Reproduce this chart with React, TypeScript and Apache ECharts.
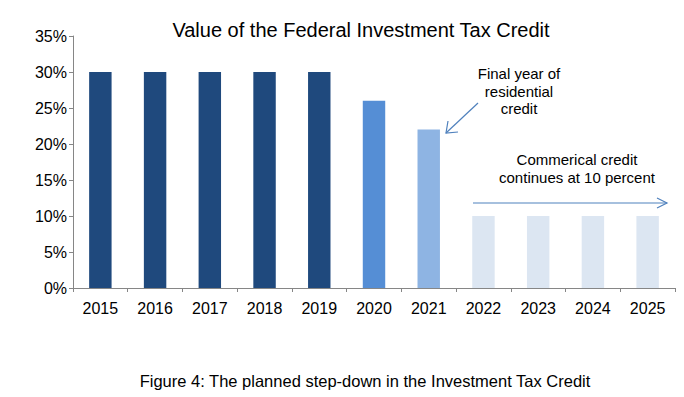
import React, { useEffect, useRef } from "react";
import * as echarts from "echarts";

const years = ["2015", "2016", "2017", "2018", "2019", "2020", "2021", "2022", "2023", "2024", "2025"];
const credit = [30, 30, 30, 30, 30, 26, 22, 10, 10, 10, 10];
const barColors = ["#1F497D", "#1F497D", "#1F497D", "#1F497D", "#1F497D", "#558ED5", "#8EB4E3", "#DCE6F2", "#DCE6F2", "#DCE6F2", "#DCE6F2"];
const yTicks = [0, 5, 10, 15, 20, 25, 30, 35];

const FONT = "'Liberation Sans', Arial, sans-serif";
const ARROW = "#4F81BD";

export default function App() {
  const ref = useRef<HTMLDivElement>(null);
  useEffect(() => {
    if (!ref.current) return;
    const chart = echarts.init(ref.current, undefined, { renderer: "svg" });
    chart.setOption({
      animation: false,
      backgroundColor: "#ffffff",
      grid: { left: 73, right: 9, top: 36, bottom: 109, containLabel: false },
      xAxis: {
        type: "category",
        data: years,
        boundaryGap: true,
        axisLine: { lineStyle: { color: "#868686", width: 1 } },
        axisTick: { show: true, length: 4, lineStyle: { color: "#868686" } },
        axisLabel: { fontFamily: FONT, fontSize: 16, color: "#000", margin: 12 },
      },
      yAxis: {
        type: "value",
        min: yTicks[0],
        max: yTicks[yTicks.length - 1],
        interval: 5,
        splitLine: { show: false },
        axisLine: { show: true, lineStyle: { color: "#868686", width: 1 } },
        axisTick: { show: true, length: 4, lineStyle: { color: "#868686" } },
        axisLabel: { fontFamily: FONT, fontSize: 16, color: "#000", margin: 6, formatter: "{value}%" },
      },
      series: [
        {
          type: "bar",
          barWidth: "41%",
          data: credit.map((v, i) => ({ value: v, itemStyle: { color: barColors[i] } })),
        },
      ],
      graphic: [
        {
          type: "text",
          x: 361,
          y: 30,
          style: {
            text: "Value of the Federal Investment Tax Credit",
            align: "center",
            verticalAlign: "middle",
            fontFamily: FONT,
            fontSize: 20,
            fill: "#000",
          },
        },
        {
          type: "text",
          x: 519,
          y: 65,
          style: {
            text: "Final year of\nresidential\ncredit",
            align: "center",
            fontFamily: FONT,
            fontSize: 15,
            lineHeight: 17.5,
            fill: "#000",
          },
        },
        {
          type: "line",
          shape: { x1: 478, y1: 103, x2: 446, y2: 133 },
          style: { stroke: ARROW, lineWidth: 1.2 },
        },
        {
          type: "polyline",
          shape: { points: [[458, 132], [446, 133], [448, 121]] },
          style: { stroke: ARROW, lineWidth: 1.2, fill: null },
        },
        {
          type: "text",
          x: 577,
          y: 150,
          style: {
            text: "Commerical credit\ncontinues at 10 percent",
            align: "center",
            fontFamily: FONT,
            fontSize: 15,
            lineHeight: 18,
            fill: "#000",
          },
        },
        {
          type: "line",
          shape: { x1: 473, y1: 203, x2: 667, y2: 203 },
          style: { stroke: ARROW, lineWidth: 1.2 },
        },
        {
          type: "polyline",
          shape: { points: [[657, 198], [667, 203], [657, 208]] },
          style: { stroke: ARROW, lineWidth: 1.2, fill: null },
        },
        {
          type: "text",
          x: 365,
          y: 381,
          style: {
            text: "Figure 4: The planned step-down in the Investment Tax Credit",
            align: "center",
            verticalAlign: "middle",
            fontFamily: FONT,
            fontSize: 16.5,
            fill: "#000",
          },
        },
      ],
    });
    return () => chart.dispose();
  }, []);
  return <div ref={ref} style={{ width: 684, height: 397, position: "absolute", left: 0, top: 0 }} />;
}
